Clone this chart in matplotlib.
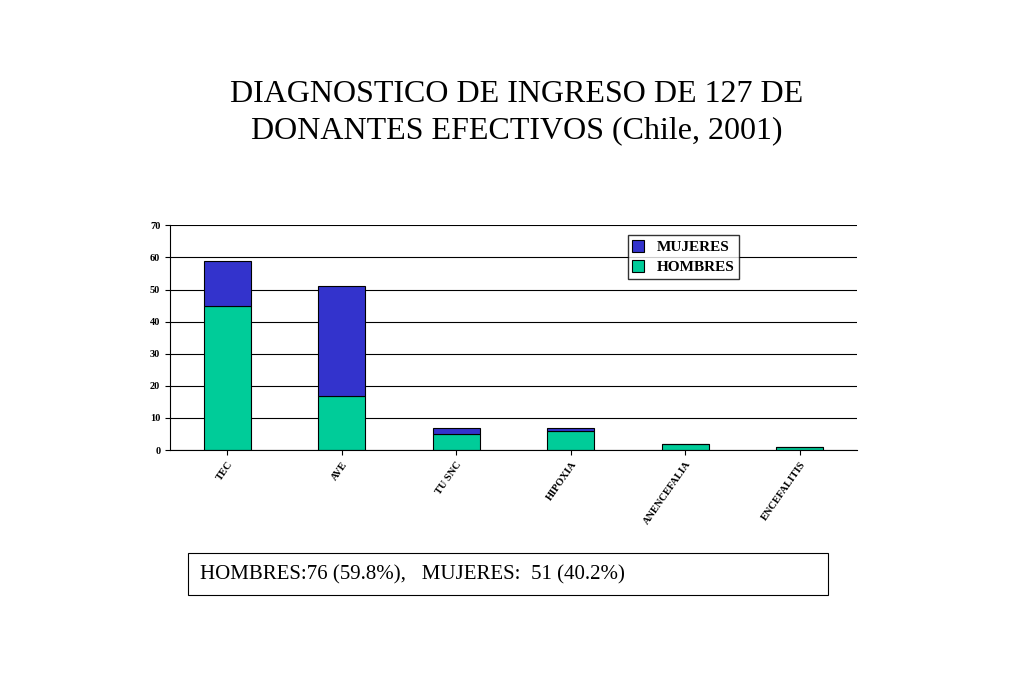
import matplotlib.pyplot as plt
import numpy as np

plt.rcParams["font.family"] = "Liberation Serif"

categories = ["TEC", "AVE", "TU SNC", "HIPOXIA", "ANENCEFALIA", "ENCEFALITIS"]
hombres = [45, 17, 5, 6, 2, 1]
mujeres = [14, 34, 2, 1, 0, 0]

fig = plt.figure(figsize=(10.24, 6.83), dpi=100)
ax = fig.add_axes([0.166, 0.341, 0.671, 0.329])

x = np.arange(len(categories))
ax.bar(x, hombres, 0.41, color="#00cc99", edgecolor="black", linewidth=0.8, label="HOMBRES")
ax.bar(x, mujeres, 0.41, bottom=hombres, color="#3333cc", edgecolor="black", linewidth=0.8, label="MUJERES")

ax.set_xlim(-0.5, len(categories) - 0.5)
ax.set_ylim(0, 70)
ax.set_yticks(range(0, 71, 10))
ax.yaxis.grid(True, color="black", linewidth=0.8)
ax.set_axisbelow(True)
for s in ["top", "right"]:
    ax.spines[s].set_visible(False)
ax.set_xticks(x)
ax.set_xticklabels(categories, rotation=55, ha="right", rotation_mode="anchor",
                   fontsize=7.5, fontweight="bold")
ax.tick_params(axis="y", labelsize=7.5)
for t in ax.get_yticklabels():
    t.set_fontweight("bold")

h, l = ax.get_legend_handles_labels()
ax.legend(h[::-1], l[::-1], loc="upper left", bbox_to_anchor=(0.655, 0.99),
          fancybox=False, edgecolor="black", prop={"weight": "bold", "size": 11},
          handlelength=0.8, handleheight=0.8, borderpad=0.3, labelspacing=0.4)

fig.text(0.505, 0.835, "DIAGNOSTICO DE INGRESO DE 127 DE\nDONANTES EFECTIVOS (Chile, 2001)",
         ha="center", va="center", fontsize=23, linespacing=1.3)

fig.text(0.195, 0.158, "HOMBRES:76 (59.8%),   MUJERES:  51 (40.2%)", fontsize=15,
         va="center", ha="left")
fig.patches.append(plt.Rectangle((0.184, 0.129), 0.625, 0.061, transform=fig.transFigure,
                                 fill=False, edgecolor="black", linewidth=0.8))

fig.savefig("out.png", dpi=100)
